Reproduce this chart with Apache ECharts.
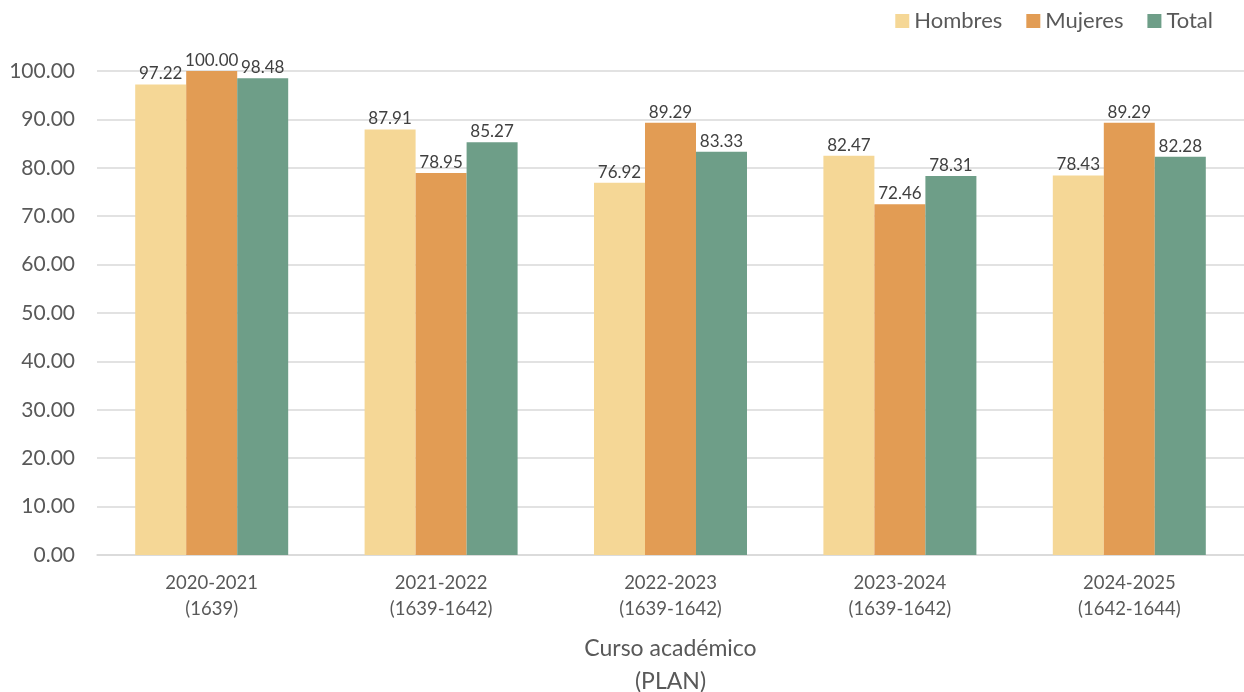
<!DOCTYPE html>
<html><head><meta charset="utf-8">
<script src="https://cdn.jsdelivr.net/npm/echarts@6/dist/echarts.min.js"></script>
<style>html,body{margin:0;padding:0;background:#fff}#c{width:1244px;height:692px}</style>
</head><body><div id="c"></div>
<script>
var categories = ['2020-2021\n(1639)', '2021-2022\n(1639-1642)', '2022-2023\n(1639-1642)', '2023-2024\n(1639-1642)', '2024-2025\n(1642-1644)'];
var hombres = [97.22, 87.91, 76.92, 82.47, 78.43];
var mujeres = [100.00, 78.95, 89.29, 72.46, 89.29];
var total = [98.48, 85.27, 83.33, 78.31, 82.28];
var seriesNames = ['Hombres', 'Mujeres', 'Total'];
var colors = ['#F5D796', '#E29C54', '#6E9E88'];
var FONT = 'Lato, Carlito, "Open Sans", sans-serif';
var chart = echarts.init(document.getElementById('c'), null, {renderer: 'canvas'});
function mk(name, data, color) {
  return {
    name: name, type: 'bar', data: data, barWidth: 51, barGap: '0%',
    itemStyle: {color: color},
    label: {show: true, position: 'top', distance: 2, color: '#404040', fontSize: 17, fontFamily: FONT,
      formatter: function (p) { return p.value.toFixed(2); }}
  };
}
chart.setOption({
  animation: false,
  textStyle: {fontFamily: FONT},
  legend: {
    top: 5, right: 26, itemWidth: 14, itemHeight: 14, itemGap: 24,
    icon: 'rect',
    textStyle: {fontSize: 22, color: '#595959', fontFamily: FONT, padding: [0, 0, 0, 0]},
    data: seriesNames
  },
  grid: {left: 97, right: 0, top: 71, bottom: 137, containLabel: false, outerBoundsMode: 'none'},
  xAxis: {
    type: 'category', data: categories,
    name: 'Curso académico\n(PLAN)', nameLocation: 'middle', nameGap: 77,
    nameTextStyle: {fontSize: 23, color: '#595959', fontFamily: FONT, lineHeight: 33},
    axisLine: {show: true, lineStyle: {color: '#D9D9D9', width: 1.5}},
    axisTick: {show: false},
    axisLabel: {fontSize: 18.5, color: '#595959', fontFamily: FONT, lineHeight: 26, margin: 15}
  },
  yAxis: {
    type: 'value', min: 0, max: 100, interval: 10,
    axisLine: {show: false}, axisTick: {show: false},
    splitLine: {lineStyle: {color: '#D9D9D9', width: 1.5}},
    axisLabel: {fontSize: 21, color: '#595959', fontFamily: FONT, margin: 22,
      formatter: function (v) { return v.toFixed(2); }}
  },
  series: [mk(seriesNames[0], hombres, colors[0]), mk(seriesNames[1], mujeres, colors[1]), mk(seriesNames[2], total, colors[2])]
});
</script></body></html>
